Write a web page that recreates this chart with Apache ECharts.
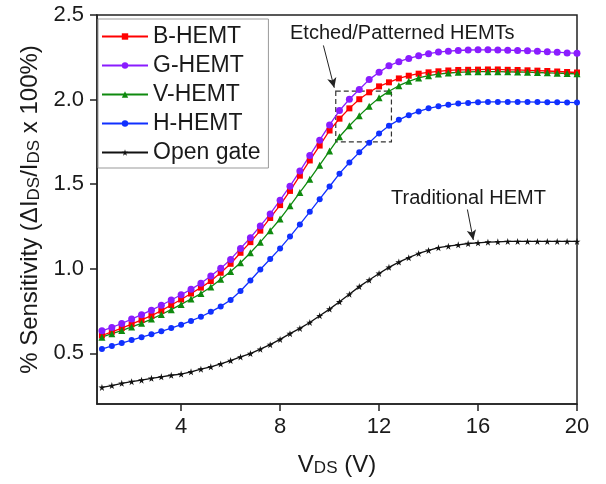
<!DOCTYPE html>
<html>
<head>
<meta charset="utf-8">
<script src="https://cdn.jsdelivr.net/npm/echarts@6.0.0/dist/echarts.min.js"></script>
<style>
  html, body { margin: 0; padding: 0; background: #fff; }
  #chart { width: 606px; height: 484px; }
</style>
</head>
<body>
<div id="chart"></div>
<script>
// drain voltage (V)
const vds = [0.8, 1.2, 1.6, 2.0, 2.4, 2.8, 3.2, 3.6, 4.0, 4.4,
  4.8, 5.2, 5.6, 6.0, 6.4, 6.8, 7.2, 7.6, 8.0, 8.4,
  8.8, 9.2, 9.6, 10.0, 10.4, 10.8, 11.2, 11.6, 12.0, 12.4,
  12.8, 13.2, 13.6, 14.0, 14.4, 14.8, 15.2, 15.6, 16.0, 16.4,
  16.8, 17.2, 17.6, 18.0, 18.4, 18.8, 19.2, 19.6, 20.0]

// % sensitivity
const bHemt = [0.605, 0.627, 0.649, 0.672, 0.697, 0.722, 0.752, 0.785, 0.818, 0.853,
  0.888, 0.927, 0.976, 1.029, 1.094, 1.157, 1.225, 1.300, 1.376, 1.460,
  1.550, 1.640, 1.728, 1.817, 1.887, 1.948, 2.002, 2.043, 2.078, 2.102,
  2.125, 2.141, 2.153, 2.161, 2.167, 2.172, 2.175, 2.176, 2.177, 2.178,
  2.178, 2.176, 2.175, 2.173, 2.171, 2.169, 2.166, 2.163, 2.160]

const gHemt = [0.633, 0.653, 0.676, 0.702, 0.728, 0.755, 0.784, 0.815, 0.846, 0.878,
  0.914, 0.957, 1.002, 1.055, 1.120, 1.183, 1.253, 1.324, 1.405, 1.488,
  1.577, 1.669, 1.760, 1.850, 1.935, 2.002, 2.060, 2.118, 2.161, 2.200,
  2.224, 2.243, 2.259, 2.271, 2.281, 2.286, 2.290, 2.293, 2.294, 2.294,
  2.293, 2.292, 2.290, 2.288, 2.286, 2.282, 2.280, 2.276, 2.274]

const vHemt = [0.595, 0.616, 0.634, 0.656, 0.677, 0.702, 0.729, 0.758, 0.789, 0.821,
  0.853, 0.892, 0.937, 0.984, 1.035, 1.094, 1.157, 1.225, 1.294, 1.372,
  1.451, 1.529, 1.612, 1.696, 1.780, 1.845, 1.905, 1.961, 2.010, 2.049,
  2.082, 2.108, 2.128, 2.141, 2.151, 2.157, 2.161, 2.164, 2.165, 2.165,
  2.165, 2.164, 2.163, 2.162, 2.160, 2.158, 2.156, 2.154, 2.152]

const hHemt = [0.525, 0.543, 0.560, 0.578, 0.595, 0.612, 0.630, 0.649, 0.669, 0.691,
  0.716, 0.745, 0.777, 0.815, 0.868, 0.930, 0.995, 1.057, 1.120, 1.190,
  1.262, 1.336, 1.411, 1.486, 1.562, 1.628, 1.688, 1.745, 1.800, 1.845,
  1.880, 1.908, 1.930, 1.948, 1.960, 1.969, 1.976, 1.980, 1.984, 1.986,
  1.986, 1.986, 1.986, 1.986, 1.985, 1.984, 1.984, 1.983, 1.982]

const openGate = [0.298, 0.309, 0.322, 0.332, 0.341, 0.352, 0.361, 0.370, 0.377, 0.390,
  0.406, 0.420, 0.437, 0.457, 0.478, 0.498, 0.524, 0.551, 0.582, 0.616,
  0.647, 0.682, 0.722, 0.761, 0.804, 0.849, 0.894, 0.933, 0.972, 1.008,
  1.039, 1.065, 1.090, 1.108, 1.124, 1.133, 1.141, 1.149, 1.153, 1.157,
  1.159, 1.161, 1.161, 1.161, 1.161, 1.161, 1.161, 1.161, 1.161]

const xTicks = [4, 8, 12, 16, 20]
const yTicks = [0.5, 1.0, 1.5, 2.0, 2.5]

// dashed box and arrows (data coords)
const boxCorners = [[10.25, 2.05], [12.5, 1.75]]
const etchedArrow = [[9.75, 2.32], [10.19, 2.07]]
const tradArrow = [[15.57, 1.35], [15.81, 1.17]]

const starPath = 'path://M50,0 L61,35 L98,35 L68,57 L79,91 L50,70 L21,91 L32,57 L2,35 L39,35 Z'
const font = 'Liberation Sans, Arial, sans-serif'
const ink = '#1a1a1a'

const pairs = (ys) => vds.map((x, i) => [x, ys[i]])

function lineSeries(name, ys, color, symbol, size) {
  return {
    name: name,
    type: 'line',
    data: pairs(ys),
    symbol: symbol,
    symbolSize: size,
    showSymbol: true,
    lineStyle: { color: color, width: 1.3 },
    itemStyle: { color: color, borderWidth: 0 },
    z: 3
  }
}

// main text + subscript for axis titles
const titleRich = {
  a: { fontSize: 24, fontFamily: font, color: ink, lineHeight: 24, verticalAlign: 'top' },
  s: { fontSize: 17, fontFamily: font, color: ink, lineHeight: 17, padding: [10, 0, 0, 0], verticalAlign: 'bottom' }
}

const chart = echarts.init(document.getElementById('chart'), null, { renderer: 'canvas' })

const option = {
  animation: false,
  backgroundColor: '#fff',
  textStyle: { fontFamily: font, color: ink },
  grid: {
    left: 97,
    right: 29,
    top: 15,
    bottom: 80,
    show: true,
    borderColor: '#222',
    borderWidth: 1.5,
    backgroundColor: 'transparent'
  },
  legend: {
    orient: 'vertical',
    left: 98,
    top: 19,
    padding: [6, 8, 4, 3],
    itemGap: 6,
    itemWidth: 46,
    itemHeight: 8,
    backgroundColor: '#fff',
    borderColor: '#999',
    borderWidth: 1,
    borderRadius: 0,
    textStyle: { fontSize: 23, fontFamily: font, color: ink },
    data: ['B-HEMT', 'G-HEMT', 'V-HEMT', 'H-HEMT', 'Open gate']
  },
  xAxis: {
    type: 'value',
    min: 0.6,
    max: 20,
    name: '{a|V}{s|DS}{a| (V)}',
    nameLocation: 'middle',
    nameGap: 49,
    nameTextStyle: { rich: titleRich },
    axisLine: { lineStyle: { color: '#222', width: 1.5 } },
    axisTick: { show: true, length: 7, customValues: xTicks, lineStyle: { color: '#222', width: 1.5 } },
    axisLabel: { customValues: xTicks, fontSize: 22, color: ink, margin: 12 },
    splitLine: { show: false }
  },
  yAxis: {
    type: 'value',
    min: 0.2,
    max: 2.5,
    name: '{a|% Sensitivity (ΔI}{s|DS}{a|/I}{s|DS}{a| x 100%)}',
    nameLocation: 'middle',
    nameRotate: 90,
    nameGap: 48,
    nameTextStyle: { rich: titleRich },
    axisLine: { lineStyle: { color: '#222', width: 1.5 } },
    axisTick: { show: true, length: 7, customValues: yTicks, lineStyle: { color: '#222', width: 1.5 } },
    axisLabel: {
      customValues: yTicks,
      fontSize: 22,
      color: ink,
      margin: 13,
      formatter: (v) => v.toFixed(1)
    },
    splitLine: { show: false }
  },
  graphic: [
    {
      type: 'text',
      left: 290,
      top: 23,
      style: { text: 'Etched/Patterned HEMTs', fontSize: 20, fontFamily: font, fill: ink }
    },
    {
      type: 'text',
      left: 391,
      top: 188,
      style: { text: 'Traditional HEMT', fontSize: 20, fontFamily: font, fill: ink }
    }
  ],
  series: [
    lineSeries('B-HEMT', bHemt, '#ff0000', 'rect', 6),
    lineSeries('G-HEMT', gHemt, '#8a1cff', 'circle', 7),
    lineSeries('V-HEMT', vHemt, '#0f8a0f', 'triangle', 7),
    lineSeries('H-HEMT', hHemt, '#1030ff', 'circle', 6),
    lineSeries('Open gate', openGate, '#111111', starPath, 7),
    {
      name: 'annot',
      type: 'line',
      data: [],
      silent: true,
      markArea: {
        silent: true,
        itemStyle: {
          color: 'rgba(0,0,0,0)',
          borderColor: '#333',
          borderWidth: 1.2,
          borderType: [5, 3]
        },
        data: [[{ coord: boxCorners[0] }, { coord: boxCorners[1] }]]
      },
      markLine: {
        silent: true,
        symbol: ['none', 'arrow'],
        symbolSize: [7, 10],
        label: { show: false },
        lineStyle: { color: '#222', width: 1, type: 'solid' },
        data: [
          [{ coord: etchedArrow[0] }, { coord: etchedArrow[1] }],
          [{ coord: tradArrow[0] }, { coord: tradArrow[1] }]
        ]
      }
    }
  ]
}

chart.setOption(option)
</script>
</body>
</html>
